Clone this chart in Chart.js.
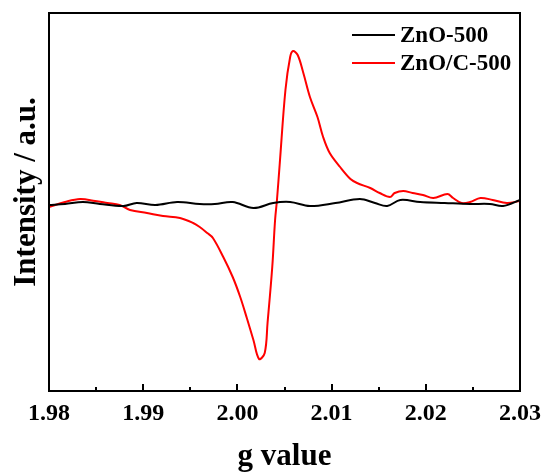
<!DOCTYPE html>
<html>
<head>
<meta charset="utf-8">
<script src="https://cdn.jsdelivr.net/npm/chart.js@4.4.0/dist/chart.umd.min.js"></script>
<style>
  body { margin: 0; background: #fff; }
  #wrap { position: relative; width: 544px; height: 472px; }
  #legend { position: absolute; left: 352px; top: 21px; font: bold 23px "Liberation Serif", "Times New Roman", serif; color: #000; }
  .row { display: flex; align-items: center; height: 28px; }
  .swatch { width: 43px; height: 2px; margin-right: 5px; }
</style>
</head>
<body>
<div id="wrap">
  <canvas id="epr" width="544" height="472"></canvas>
  <div id="legend">
    <div class="row"><span class="swatch" style="background:#000"></span>ZnO-500</div>
    <div class="row"><span class="swatch" style="background:#ff0000"></span>ZnO/C-500</div>
  </div>
</div>
<script>
// ZnO/C-500 (red)
const redG = [1.9800, 1.9817, 1.9833, 1.9849, 1.9862, 1.9875, 1.9886, 1.9904, 1.9921, 1.9939,
  1.9953, 1.9960, 1.9968, 1.9974, 1.9985, 1.9995, 2.0003, 2.0010, 2.0017, 2.0023,
  2.0029, 2.0032, 2.0037, 2.0040, 2.0042, 2.0045, 2.0051, 2.0056, 2.0059, 2.0064,
  2.0070, 2.0077, 2.0085, 2.0091, 2.0098, 2.0109, 2.0120, 2.0127, 2.0141, 2.0151,
  2.0162, 2.0167, 2.0176, 2.0186, 2.0197, 2.0208, 2.0223, 2.0229, 2.0238, 2.0247,
  2.0258, 2.0271, 2.0286, 2.0300];
const redI = [-3, 2, 5, 3, 1, -1, -6, -9, -12, -14,
  -19, -23, -29, -34, -53, -73, -93, -114, -136, -155,
  -149, -119, -63, -16, 4, 41, 114, 147, 153, 149,
  131, 107, 87, 67, 51, 37, 25, 21, 16, 11,
  7, 11, 13, 11, 9, 6, 10, 6, 1, 2,
  6, 4, 1, 3];

// ZnO-500 (black)
const blackG = [1.9800, 1.9817, 1.9836, 1.9854, 1.9879, 1.9893, 1.9913, 1.9936, 1.9960, 1.9976,
  1.9995, 2.0017, 2.0038, 2.0056, 2.0077, 2.0104, 2.0130, 2.0146, 2.0159, 2.0173,
  2.0194, 2.0220, 2.0247, 2.0268, 2.0282, 2.0300];
const blackI = [-1, 0, 2, 0, -2, 1, -1, 2, 0, 0,
  2, -4, 1, 2, -2, 1, 5, 1, -2, 4,
  2, 1, 0, 0, -2, 4];

const xTicks = [1.98, 1.99, 2.00, 2.01, 2.02, 2.03];
const xMinorStep = 0.005;
const yMin = -187;
const yMax = 191;

const serif = '"Liberation Serif", "Times New Roman", serif';

// frame, inward ticks and the y title
const framePlugin = {
  id: "frame",
  afterDatasetsDraw(chart) {
    const { ctx, chartArea: a, scales: { x } } = chart;
    ctx.save();
    ctx.strokeStyle = "#000";
    ctx.lineWidth = 2;
    ctx.strokeRect(a.left, a.top, a.right - a.left, a.bottom - a.top);
    const n = Math.round((xTicks[xTicks.length - 1] - xTicks[0]) / xMinorStep);
    ctx.beginPath();
    for (let i = 1; i < n; i++) {
      const px = Math.round(x.getPixelForValue(xTicks[0] + i * xMinorStep));
      const len = i % 2 ? 4 : 7;
      ctx.moveTo(px, a.bottom);
      ctx.lineTo(px, a.bottom - len);
    }
    ctx.stroke();

    ctx.translate(35, 192);
    ctx.rotate(-Math.PI / 2);
    ctx.fillStyle = "#000";
    ctx.font = "bold 31px " + serif;
    ctx.textAlign = "center";
    ctx.textBaseline = "alphabetic";
    ctx.fillText("Intensity / a.u.", 0, 0);
    ctx.restore();
  }
};

const ctx = document.getElementById("epr").getContext("2d");
new Chart(ctx, {
  type: "line",
  data: {
    datasets: [
      {
        label: "ZnO-500",
        data: blackG.map((g, i) => ({ x: g, y: blackI[i] })),
        borderColor: "#000",
        borderWidth: 2,
        pointRadius: 0,
        tension: 0.35
      },
      {
        label: "ZnO/C-500",
        data: redG.map((g, i) => ({ x: g, y: redI[i] })),
        borderColor: "#ff0000",
        borderWidth: 2,
        pointRadius: 0,
        tension: 0.35
      }
    ]
  },
  options: {
    responsive: false,
    animation: false,
    layout: { padding: { top: 13, right: 24, left: 0, bottom: 0 } },
    plugins: {
      legend: { display: false },
      tooltip: { enabled: false }
    },
    scales: {
      x: {
        type: "linear",
        min: xTicks[0],
        max: xTicks[xTicks.length - 1],
        afterBuildTicks: s => { s.ticks = xTicks.map(v => ({ value: v })); },
        afterFit: s => { s.height = 81; },
        grid: { display: false },
        border: { display: false },
        ticks: {
          color: "#000",
          padding: 0,
          maxRotation: 0,
          font: { family: serif, size: 24, weight: "bold" },
          callback: v => v.toFixed(2)
        },
        title: {
          display: true,
          text: "g value",
          color: "#000",
          padding: { top: 0, bottom: -4 },
          font: { family: serif, size: 31, weight: "bold" }
        }
      },
      y: {
        min: yMin,
        max: yMax,
        afterFit: s => { s.width = 49; },
        grid: { display: false },
        border: { display: false },
        ticks: { display: false }
      }
    }
  },
  plugins: [framePlugin]
});
</script>
</body>
</html>
